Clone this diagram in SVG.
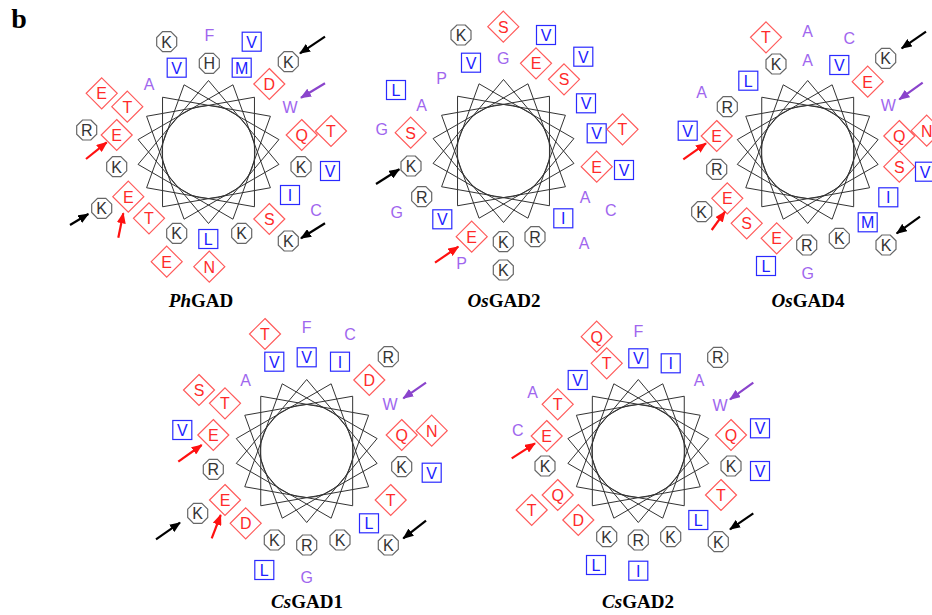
<svg xmlns="http://www.w3.org/2000/svg" xmlns:xlink="http://www.w3.org/1999/xlink" width="932" height="615" viewBox="0 0 932 615">
<style>
text{font-family:"Liberation Sans",Arial,sans-serif;font-size:16px;text-anchor:middle}
.oct{fill:#fff;stroke:#666;stroke-width:1.2}
.dia{fill:none;stroke:#ff5a5a;stroke-width:1.2}
.sq{fill:#fff;stroke:#2a2aff;stroke-width:1.2}
.b text{fill:#333}
.p text{fill:#ff2a2a}
.h text{fill:#2020ff}
.n{fill:#a066ee}
.star{fill:none;stroke:#333;stroke-width:1}
.title{font-family:"Liberation Serif","Times New Roman",serif;font-size:19px;font-weight:bold;fill:#000}
.arr{stroke-width:2.2;fill:none}
</style>
<defs>
<polygon id="oct" class="oct" points="4.14,-10 10,-4.14 10,4.14 4.14,10 -4.14,10 -10,4.14 -10,-4.14 -4.14,-10"/>
<polygon id="dia" class="dia" points="0,-15.5 15.5,0 0,15.5 -15.5,0"/>
<rect id="sq" class="sq" x="-9.5" y="-9.5" width="19" height="19"/>
<g id="wheel">
<polygon class="star" points="0,-71.5 70.41,12.42 -24.45,67.19 -61.92,-35.75 45.96,-54.77 45.96,54.77 -61.92,35.75 -24.45,-67.19 70.41,-12.42 0,71.5 -70.41,-12.42 24.45,-67.19 61.92,35.75 -45.96,54.77 -45.96,-54.77 61.92,-35.75 24.45,67.19 -70.41,12.42"/>
<circle class="star" r="46.5"/>
</g>
<marker id="mk" markerUnits="userSpaceOnUse" markerWidth="11" markerHeight="9" refX="10" refY="4.5" orient="auto"><path d="M0,0 L11,4.5 L0,9 z" fill="#000"/></marker>
<marker id="mr" markerUnits="userSpaceOnUse" markerWidth="11" markerHeight="9" refX="10" refY="4.5" orient="auto"><path d="M0,0 L11,4.5 L0,9 z" fill="#ff1010"/></marker>
<marker id="mp" markerUnits="userSpaceOnUse" markerWidth="11" markerHeight="9" refX="10" refY="4.5" orient="auto"><path d="M0,0 L11,4.5 L0,9 z" fill="#8a44cc"/></marker>
</defs>
<rect width="932" height="615" fill="#fff"/>
<text x="19" y="28" style="font-family:'Liberation Serif','Times New Roman',serif;font-size:28px;font-weight:bold">b</text>

<g id="PhGAD">
<use href="#wheel" transform="translate(208.5,152)"/>
<g class="b" transform="translate(166.7,41.7)"><use href="#oct"/><text y="6">K</text></g>
<text class="n" x="209.3" y="41">F</text>
<g class="h" transform="translate(251.7,41.7)"><use href="#sq"/><text y="6">V</text></g>
<g class="h" transform="translate(176.7,67.7)"><use href="#sq"/><text y="6">V</text></g>
<g class="b" transform="translate(209.3,63.3)"><use href="#oct"/><text y="6">H</text></g>
<g class="h" transform="translate(241.7,67.7)"><use href="#sq"/><text y="6">M</text></g>
<g class="b" transform="translate(288.3,61.7)"><use href="#oct"/><text y="6">K</text></g>
<text class="n" x="149" y="90">A</text>
<g class="p" transform="translate(269.3,84)"><use href="#dia"/><text y="6">D</text></g>
<g class="p" transform="translate(101.7,93.3)"><use href="#dia"/><text y="6">E</text></g>
<g class="p" transform="translate(127.3,106.7)"><use href="#dia"/><text y="6">T</text></g>
<text class="n" x="290" y="112.7">W</text>
<g class="b" transform="translate(86.7,130)"><use href="#oct"/><text y="6">R</text></g>
<g class="p" transform="translate(116.7,135)"><use href="#dia"/><text y="6">E</text></g>
<g class="p" transform="translate(301.7,135)"><use href="#dia"/><text y="6">Q</text></g>
<g class="p" transform="translate(331,131)"><use href="#dia"/><text y="6">T</text></g>
<g class="b" transform="translate(116.7,166.7)"><use href="#oct"/><text y="6">K</text></g>
<g class="b" transform="translate(301,166.7)"><use href="#oct"/><text y="6">K</text></g>
<g class="h" transform="translate(330,171)"><use href="#sq"/><text y="6">V</text></g>
<g class="h" transform="translate(290,195)"><use href="#sq"/><text y="6">I</text></g>
<g class="p" transform="translate(128.3,196.7)"><use href="#dia"/><text y="6">E</text></g>
<g class="b" transform="translate(101.7,208.3)"><use href="#oct"/><text y="6">K</text></g>
<text class="n" x="316" y="216">C</text>
<g class="p" transform="translate(149,218.3)"><use href="#dia"/><text y="6">T</text></g>
<g class="p" transform="translate(269.3,219)"><use href="#dia"/><text y="6">S</text></g>
<g class="b" transform="translate(176.7,233.3)"><use href="#oct"/><text y="6">K</text></g>
<g class="h" transform="translate(208.3,239)"><use href="#sq"/><text y="6">L</text></g>
<g class="b" transform="translate(241.7,233.3)"><use href="#oct"/><text y="6">K</text></g>
<g class="b" transform="translate(288.3,241)"><use href="#oct"/><text y="6">K</text></g>
<g class="p" transform="translate(166.7,261.7)"><use href="#dia"/><text y="6">E</text></g>
<g class="p" transform="translate(209.3,266.7)"><use href="#dia"/><text y="6">N</text></g>
<text class="title" x="201" y="307"><tspan font-style="italic">Ph</tspan>GAD</text>
</g>

<g id="OsGAD2">
<use href="#wheel" transform="translate(503.5,151)"/>
<g class="b" transform="translate(461,35)"><use href="#oct"/><text y="6">K</text></g>
<g class="p" transform="translate(503.3,26.7)"><use href="#dia"/><text y="6">S</text></g>
<g class="h" transform="translate(546,35)"><use href="#sq"/><text y="6">V</text></g>
<g class="h" transform="translate(471,62.7)"><use href="#sq"/><text y="6">V</text></g>
<text class="n" x="503.3" y="64.3">G</text>
<g class="p" transform="translate(536,63.3)"><use href="#dia"/><text y="6">E</text></g>
<g class="h" transform="translate(583.3,56.7)"><use href="#sq"/><text y="6">V</text></g>
<text class="n" x="441.7" y="84.3">P</text>
<g class="p" transform="translate(564,79.3)"><use href="#dia"/><text y="6">S</text></g>
<g class="h" transform="translate(396,90)"><use href="#sq"/><text y="6">L</text></g>
<text class="n" x="421.7" y="111">A</text>
<g class="h" transform="translate(586,103.3)"><use href="#sq"/><text y="6">V</text></g>
<text class="n" x="381.7" y="135.3">G</text>
<g class="p" transform="translate(410.7,132.7)"><use href="#dia"/><text y="6">S</text></g>
<g class="h" transform="translate(596.7,133.3)"><use href="#sq"/><text y="6">V</text></g>
<g class="p" transform="translate(622.5,129.3)"><use href="#dia"/><text y="6">T</text></g>
<g class="b" transform="translate(411,166)"><use href="#oct"/><text y="6">K</text></g>
<g class="p" transform="translate(596.7,166.7)"><use href="#dia"/><text y="6">E</text></g>
<g class="h" transform="translate(624,170)"><use href="#sq"/><text y="6">V</text></g>
<g class="b" transform="translate(421.7,196.7)"><use href="#oct"/><text y="6">R</text></g>
<text class="n" x="585" y="202.7">A</text>
<text class="n" x="396.7" y="217.7">G</text>
<g class="h" transform="translate(442.3,219.3)"><use href="#sq"/><text y="6">V</text></g>
<g class="h" transform="translate(563.3,218.3)"><use href="#sq"/><text y="6">I</text></g>
<text class="n" x="610.7" y="216">C</text>
<g class="p" transform="translate(471.7,236.7)"><use href="#dia"/><text y="6">E</text></g>
<g class="b" transform="translate(503.3,241.7)"><use href="#oct"/><text y="6">K</text></g>
<g class="b" transform="translate(535,236.7)"><use href="#oct"/><text y="6">R</text></g>
<text class="n" x="584" y="249.3">A</text>
<text class="n" x="461.7" y="269.3">P</text>
<g class="b" transform="translate(503.3,270)"><use href="#oct"/><text y="6">K</text></g>
<text class="title" x="504" y="307"><tspan font-style="italic">Os</tspan>GAD2</text>
</g>

<g id="OsGAD4">
<use href="#wheel" transform="translate(807.7,152)"/>
<g class="p" transform="translate(766,37.3)"><use href="#dia"/><text y="6">T</text></g>
<text class="n" x="807.7" y="36.7">A</text>
<text class="n" x="849.3" y="44.3">C</text>
<g class="b" transform="translate(776,64)"><use href="#oct"/><text y="6">K</text></g>
<text class="n" x="807.7" y="66">A</text>
<g class="h" transform="translate(839.3,65)"><use href="#sq"/><text y="6">V</text></g>
<g class="b" transform="translate(885.7,58.3)"><use href="#oct"/><text y="6">K</text></g>
<g class="p" transform="translate(867.7,81.7)"><use href="#dia"/><text y="6">E</text></g>
<g class="h" transform="translate(748.3,80.7)"><use href="#sq"/><text y="6">L</text></g>
<text class="n" x="701.7" y="97.7">A</text>
<g class="b" transform="translate(727.3,106.7)"><use href="#oct"/><text y="6">R</text></g>
<text class="n" x="888.3" y="111">W</text>
<g class="h" transform="translate(687.7,130.7)"><use href="#sq"/><text y="6">V</text></g>
<g class="p" transform="translate(716.7,136)"><use href="#dia"/><text y="6">E</text></g>
<g class="p" transform="translate(899.3,136)"><use href="#dia"/><text y="6">Q</text></g>
<g class="p" transform="translate(926.7,130.7)"><use href="#dia"/><text y="6">N</text></g>
<g class="b" transform="translate(716.7,169.3)"><use href="#oct"/><text y="6">R</text></g>
<g class="p" transform="translate(899.3,166.7)"><use href="#dia"/><text y="6">S</text></g>
<g class="h" transform="translate(925,171.7)"><use href="#sq"/><text y="6">V</text></g>
<g class="h" transform="translate(888.3,197.3)"><use href="#sq"/><text y="6">I</text></g>
<g class="b" transform="translate(701.7,211.7)"><use href="#oct"/><text y="6">K</text></g>
<g class="p" transform="translate(727.3,198.3)"><use href="#dia"/><text y="6">E</text></g>
<g class="p" transform="translate(746.7,223.3)"><use href="#dia"/><text y="6">S</text></g>
<g class="h" transform="translate(867.7,222.3)"><use href="#sq"/><text y="6">M</text></g>
<g class="p" transform="translate(776.7,238.3)"><use href="#dia"/><text y="6">E</text></g>
<g class="b" transform="translate(806.7,245)"><use href="#oct"/><text y="6">R</text></g>
<g class="b" transform="translate(839.3,238.3)"><use href="#oct"/><text y="6">K</text></g>
<g class="b" transform="translate(886,245)"><use href="#oct"/><text y="6">K</text></g>
<g class="h" transform="translate(766,266)"><use href="#sq"/><text y="6">L</text></g>
<text class="n" x="807.7" y="279.3">G</text>
<text class="title" x="808" y="307"><tspan font-style="italic">Os</tspan>GAD4</text>
</g>

<g id="CsGAD1">
<use href="#wheel" transform="translate(306.7,451)"/>
<g class="p" transform="translate(265,334)"><use href="#dia"/><text y="6">T</text></g>
<text class="n" x="306.7" y="333.3">F</text>
<text class="n" x="350" y="340">C</text>
<g class="h" transform="translate(274.3,361.7)"><use href="#sq"/><text y="6">V</text></g>
<g class="h" transform="translate(306.7,357.3)"><use href="#sq"/><text y="6">V</text></g>
<g class="h" transform="translate(340,361.7)"><use href="#sq"/><text y="6">I</text></g>
<g class="b" transform="translate(388.3,356.7)"><use href="#oct"/><text y="6">R</text></g>
<text class="n" x="245.7" y="386">A</text>
<g class="p" transform="translate(369.3,380)"><use href="#dia"/><text y="6">D</text></g>
<g class="p" transform="translate(199,390)"><use href="#dia"/><text y="6">S</text></g>
<g class="p" transform="translate(225,403.3)"><use href="#dia"/><text y="6">T</text></g>
<text class="n" x="390" y="410">W</text>
<g class="h" transform="translate(182.3,430)"><use href="#sq"/><text y="6">V</text></g>
<g class="p" transform="translate(213.3,435)"><use href="#dia"/><text y="6">E</text></g>
<g class="p" transform="translate(401.7,435)"><use href="#dia"/><text y="6">Q</text></g>
<g class="p" transform="translate(431.7,430.7)"><use href="#dia"/><text y="6">N</text></g>
<g class="b" transform="translate(213.3,469.3)"><use href="#oct"/><text y="6">R</text></g>
<g class="b" transform="translate(401.7,466.7)"><use href="#oct"/><text y="6">K</text></g>
<g class="h" transform="translate(431.7,472.7)"><use href="#sq"/><text y="6">V</text></g>
<g class="p" transform="translate(225,500)"><use href="#dia"/><text y="6">E</text></g>
<g class="b" transform="translate(197.7,513.3)"><use href="#oct"/><text y="6">K</text></g>
<g class="p" transform="translate(390.7,500)"><use href="#dia"/><text y="6">T</text></g>
<g class="p" transform="translate(245.7,523.3)"><use href="#dia"/><text y="6">D</text></g>
<g class="h" transform="translate(369,523.3)"><use href="#sq"/><text y="6">L</text></g>
<g class="b" transform="translate(274.3,540)"><use href="#oct"/><text y="6">K</text></g>
<g class="b" transform="translate(306.7,545)"><use href="#oct"/><text y="6">R</text></g>
<g class="b" transform="translate(340,540)"><use href="#oct"/><text y="6">K</text></g>
<g class="b" transform="translate(388.3,545)"><use href="#oct"/><text y="6">K</text></g>
<g class="h" transform="translate(264.3,570)"><use href="#sq"/><text y="6">L</text></g>
<text class="n" x="306.7" y="582.7">G</text>
<text class="title" x="307" y="608"><tspan font-style="italic">Cs</tspan>GAD1</text>
</g>

<g id="CsGAD2">
<use href="#wheel" transform="translate(638.3,451)"/>
<g class="p" transform="translate(596.7,336.7)"><use href="#dia"/><text y="6">Q</text></g>
<text class="n" x="638.3" y="336.7">F</text>
<g class="p" transform="translate(606.7,363.3)"><use href="#dia"/><text y="6">T</text></g>
<g class="h" transform="translate(638.3,358.3)"><use href="#sq"/><text y="6">V</text></g>
<g class="h" transform="translate(670.7,363.3)"><use href="#sq"/><text y="6">I</text></g>
<g class="b" transform="translate(717.7,357.3)"><use href="#oct"/><text y="6">R</text></g>
<g class="h" transform="translate(577.7,380)"><use href="#sq"/><text y="6">V</text></g>
<text class="n" x="699" y="386">A</text>
<text class="n" x="532.7" y="397.7">A</text>
<g class="p" transform="translate(557.7,404.3)"><use href="#dia"/><text y="6">T</text></g>
<text class="n" x="720" y="411">W</text>
<text class="n" x="517.7" y="436">C</text>
<g class="p" transform="translate(546.7,436)"><use href="#dia"/><text y="6">E</text></g>
<g class="p" transform="translate(731,435)"><use href="#dia"/><text y="6">Q</text></g>
<g class="h" transform="translate(760,428.3)"><use href="#sq"/><text y="6">V</text></g>
<g class="b" transform="translate(545,466)"><use href="#oct"/><text y="6">K</text></g>
<g class="b" transform="translate(731,466)"><use href="#oct"/><text y="6">K</text></g>
<g class="h" transform="translate(760,471)"><use href="#sq"/><text y="6">V</text></g>
<g class="p" transform="translate(557.7,495)"><use href="#dia"/><text y="6">Q</text></g>
<g class="p" transform="translate(531.7,510)"><use href="#dia"/><text y="6">T</text></g>
<g class="p" transform="translate(721,495)"><use href="#dia"/><text y="6">T</text></g>
<g class="p" transform="translate(578.3,520)"><use href="#dia"/><text y="6">D</text></g>
<g class="h" transform="translate(698.3,520)"><use href="#sq"/><text y="6">L</text></g>
<g class="b" transform="translate(606.7,536.7)"><use href="#oct"/><text y="6">K</text></g>
<g class="b" transform="translate(638.3,540)"><use href="#oct"/><text y="6">R</text></g>
<g class="b" transform="translate(670.7,536.7)"><use href="#oct"/><text y="6">K</text></g>
<g class="b" transform="translate(718.3,541.7)"><use href="#oct"/><text y="6">K</text></g>
<g class="h" transform="translate(596,565)"><use href="#sq"/><text y="6">L</text></g>
<g class="h" transform="translate(638.3,570.7)"><use href="#sq"/><text y="6">I</text></g>
<text class="title" x="638" y="608"><tspan font-style="italic">Cs</tspan>GAD2</text>
</g>

<g id="connectors">
<g class="arr" stroke="#000" marker-end="url(#mk)">
<line x1="325" y1="36.7" x2="300" y2="53.3"/>
<line x1="325" y1="223.3" x2="301" y2="238.3"/>
<line x1="70" y1="225" x2="88.3" y2="214"/>
<line x1="376" y1="184" x2="399.3" y2="169.3"/>
<line x1="926" y1="31.7" x2="901.7" y2="48.3"/>
<line x1="920" y1="216.7" x2="896.7" y2="233.3"/>
<line x1="156" y1="539.3" x2="180" y2="522.7"/>
<line x1="426" y1="520.7" x2="403.3" y2="538.3"/>
<line x1="753.3" y1="513.3" x2="730" y2="529.3"/>
</g>
<g class="arr" stroke="#8a44cc" marker-end="url(#mp)">
<line x1="325" y1="83.3" x2="301" y2="97.7"/>
<line x1="922.7" y1="82.7" x2="899.3" y2="99.3"/>
<line x1="426" y1="382.7" x2="403.3" y2="398.3"/>
<line x1="753.3" y1="382.7" x2="730" y2="399.3"/>
</g>
<g class="arr" stroke="#ff1010" marker-end="url(#mr)">
<line x1="86" y1="159" x2="106.7" y2="142.3"/>
<line x1="118.3" y1="237.7" x2="123.3" y2="213.3"/>
<line x1="435" y1="262.7" x2="458.3" y2="246.7"/>
<line x1="683.3" y1="159.3" x2="706" y2="143.3"/>
<line x1="711.7" y1="230" x2="725" y2="211.7"/>
<line x1="178.3" y1="461.7" x2="201.7" y2="445"/>
<line x1="211.7" y1="538.3" x2="220.7" y2="515"/>
<line x1="511.7" y1="458.3" x2="535" y2="443.3"/>
</g>
</g>
</svg>
